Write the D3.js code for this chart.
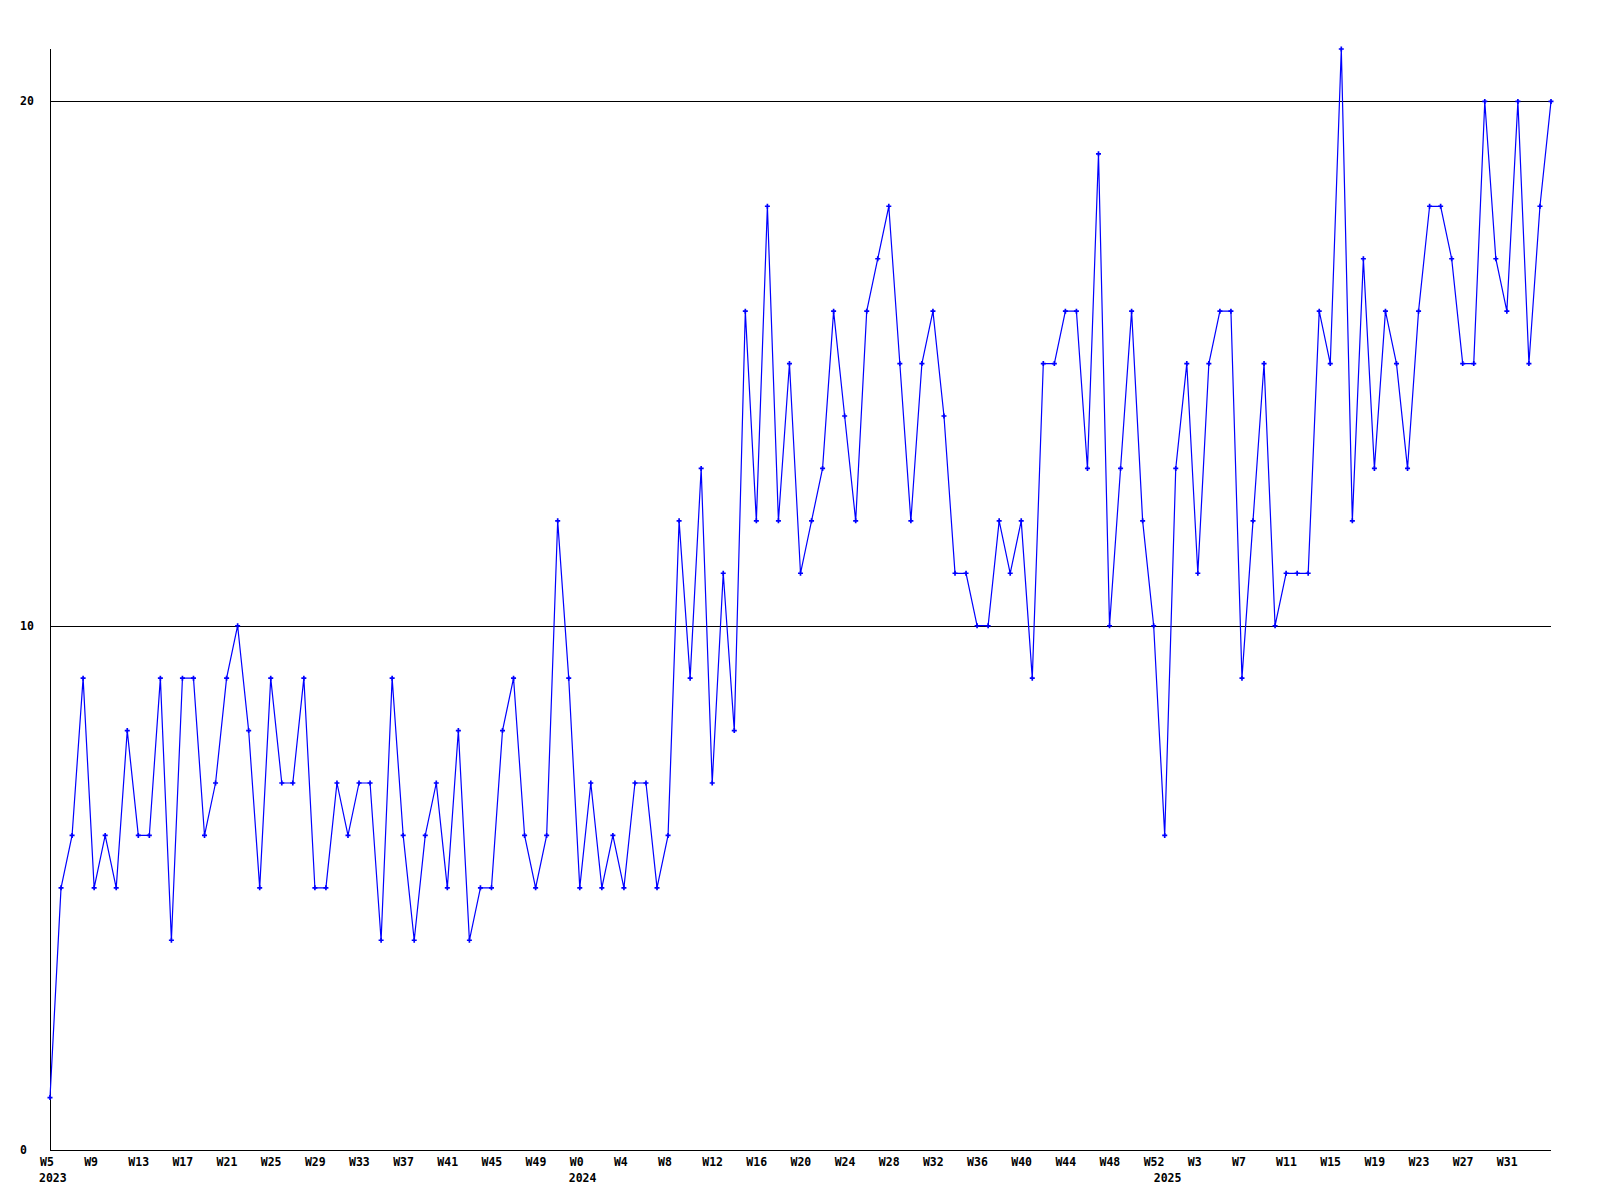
<!DOCTYPE html>
<html>
<head>
<meta charset="utf-8">
<script src="https://cdn.jsdelivr.net/npm/d3@7"></script>
<style>
  html, body { margin: 0; padding: 0; background: #ffffff; }
  svg { display: block; }
  text { font-family: "DejaVu Sans Mono", "Liberation Mono", monospace; font-weight: bold; font-size: 11.5px; fill: #000; }
</style>
</head>
<body>
<svg id="chart" width="1600" height="1200"></svg>
<script>
// Weekly values, W5 2023 .. W35 2025 (one per week)
const values = [
  1, 5, 6, 9, 5, 6, 5, 8, 6, 6, 9, 4, 9, 9, 6, 7, 9, 10, 8, 5,
  9, 7, 7, 9, 5, 5, 7, 6, 7, 7, 4, 9, 6, 4, 6, 7, 5, 8, 4, 5,
  5, 8, 9, 6, 5, 6, 12, 9, 5, 7, 5, 6, 5, 7, 7, 5, 6, 12, 9, 13,
  7, 11, 8, 16, 12, 18, 12, 15, 11, 12, 13, 16, 14, 12, 16, 17, 18, 15, 12, 15,
  16, 14, 11, 11, 10, 10, 12, 11, 12, 9, 15, 15, 16, 16, 13, 19, 10, 13, 16, 12,
  10, 6, 13, 15, 11, 15, 16, 16, 9, 12, 15, 10, 11, 11, 11, 16, 15, 21, 12, 17,
  13, 16, 15, 13, 16, 18, 18, 17, 15, 15, 20, 17, 16, 20, 15, 18, 20
];
// Week labels shown every 4th week
const tickLabels = [
  "W5", "W9", "W13", "W17", "W21", "W25", "W29", "W33", "W37", "W41", "W45", "W49",
  "W0", "W4", "W8", "W12", "W16", "W20", "W24", "W28", "W32", "W36", "W40", "W44", "W48", "W52",
  "W3", "W7", "W11", "W15", "W19", "W23", "W27", "W31"
];
const tickStep = 4;
// Year labels and the week index where each year begins
const years = ["2023", "2024", "2025"];
const yearStart = [0, 48, 101];
// Y labels / grid levels
const yTicks = [0, 10, 20];
const yGrid = [10, 20];

(function () {
const svg = d3.select("#chart");
const mLeft = 50, mRight = 1551, mTop = 49, mBottom = 1150;

const x = d3.scaleLinear().domain([0, values.length - 1]).range([mLeft, mRight]);
const y = d3.scaleLinear().domain([0, 21]).range([mBottom, mTop]);

// gridlines
svg.append("g").selectAll("line").data(yGrid).join("line")
  .attr("x1", mLeft).attr("x2", mRight)
  .attr("y1", d => Math.round(y(d)) + 0.5).attr("y2", d => Math.round(y(d)) + 0.5)
  .attr("stroke", "#000").attr("stroke-width", 1).attr("shape-rendering", "crispEdges");

// axes lines
svg.append("line").attr("x1", mLeft + 0.5).attr("x2", mLeft + 0.5).attr("y1", mTop).attr("y2", mBottom + 0.5)
  .attr("stroke", "#000").attr("shape-rendering", "crispEdges");
svg.append("line").attr("x1", mLeft).attr("x2", mRight).attr("y1", mBottom + 0.5).attr("y2", mBottom + 0.5)
  .attr("stroke", "#000").attr("shape-rendering", "crispEdges");

// y labels
svg.append("g").selectAll("text").data(yTicks).join("text")
  .attr("x", 20).attr("y", d => y(d) + 4)
  .text(d => d);

// x week labels
svg.append("g").selectAll("text").data(tickLabels).join("text")
  .attr("x", (d, i) => x(i * tickStep) - 10)
  .attr("y", 1166)
  .text(d => d);

// year labels
svg.append("g").selectAll("text").data(years).join("text")
  .attr("x", (d, i) => x(yearStart[i]) - 11)
  .attr("y", 1182)
  .text(d => d);

// data line
const line = d3.line().x((d, i) => x(i)).y(d => y(d));
svg.append("path").datum(values)
  .attr("d", line)
  .attr("fill", "none").attr("stroke", "#0000ff").attr("stroke-width", 1.2);

// markers
svg.append("g").selectAll("path").data(values).join("path")
  .attr("transform", (d, i) => `translate(${x(i)},${y(d)})`)
  .attr("d", d3.symbol().type(d3.symbolCross).size(14))
  .attr("fill", "#0000ff");
})();
</script>
</body>
</html>
